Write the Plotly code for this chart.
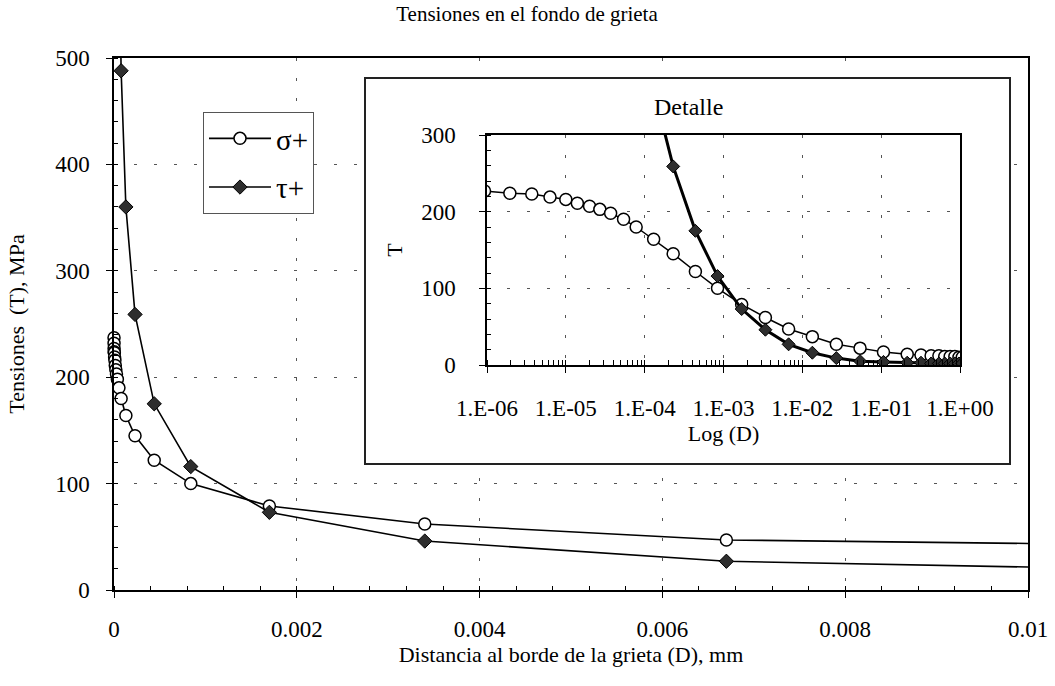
import plotly.graph_objects as go

# ---------------- data ----------------
D_sigma = [2e-7, 5e-7, 9.3e-7, 1.95e-6, 3.7e-6, 6.3e-6, 1.0e-5, 1.4e-5, 2.0e-5, 2.7e-5,
           3.7e-5, 5.4e-5, 7.8e-5, 1.3e-4, 2.3e-4, 4.4e-4, 8.4e-4, 1.7e-3, 3.4e-3, 6.7e-3,
           1.34e-2, 2.7e-2, 5.4e-2, 0.107, 0.214, 0.32, 0.43, 0.54, 0.64, 0.75,
           0.86, 0.97, 1.07]
sigma = [237, 232, 227, 224, 223, 219, 216, 211, 207, 203,
         198, 190, 180, 164, 145, 122, 100, 79, 62, 47,
         37, 27, 22, 17, 14, 13, 12, 12, 11, 11,
         11, 10, 10]

D_tau = [3.7e-5, 5.4e-5, 7.8e-5, 1.3e-4, 2.3e-4, 4.4e-4, 8.4e-4, 1.7e-3, 3.4e-3, 6.7e-3,
         1.34e-2, 2.7e-2, 5.4e-2, 0.107, 0.214, 0.32, 0.43, 0.54, 0.64, 0.75,
         0.86, 0.97, 1.07]
tau = [720, 600, 488, 360, 259, 175, 116, 73, 46, 27,
       16, 9, 5, 4, 3, 3, 2, 2, 2, 2,
       2, 2, 2]

inset_tickvals = [1e-6, 1e-5, 1e-4, 1e-3, 1e-2, 1e-1, 1e0]
inset_ticktext = ["1.E-06", "1.E-05", "1.E-04", "1.E-03", "1.E-02", "1.E-01", "1.E+00"]

name_sigma = "σ+"
name_tau = "τ+"

FONT = "Liberation Serif, Times New Roman, serif"
GRID = dict(showgrid=True, gridcolor="#555555", gridwidth=1, griddash="3px,17px")

fig = go.Figure()

# main chart
fig.add_trace(go.Scatter(
    x=D_sigma, y=sigma, mode="lines+markers", name=name_sigma,
    legendgroup="s", xaxis="x", yaxis="y", cliponaxis=False,
    line=dict(color="black", width=1.6),
    marker=dict(symbol="circle", size=12, color="white", line=dict(color="black", width=1.5)),
))
fig.add_trace(go.Scatter(
    x=D_tau, y=tau, mode="lines+markers", name=name_tau,
    legendgroup="t", xaxis="x", yaxis="y", cliponaxis=False,
    line=dict(color="black", width=1.6),
    marker=dict(symbol="diamond", size=11, color="#2e2e2e", line=dict(color="black", width=1)),
))

# inset (detail, log axis)
fig.add_trace(go.Scatter(
    x=D_sigma, y=sigma, mode="lines+markers", showlegend=False,
    xaxis="x2", yaxis="y2",
    line=dict(color="black", width=1.5),
    marker=dict(symbol="circle", size=12, color="white", line=dict(color="black", width=1.5)),
))
fig.add_trace(go.Scatter(
    x=D_tau, y=tau, mode="lines+markers", showlegend=False,
    xaxis="x2", yaxis="y2",
    line=dict(color="black", width=3),
    marker=dict(symbol="diamond", size=10, color="#2e2e2e", line=dict(color="black", width=1)),
))

W, H = 1055, 686
L, R, T, B = 114, 1028, 58, 590
pw, ph = R - L, B - T
XMAX, YMAX = 0.01, 500


def px_x(p):
    return (p - L) / pw


def px_y(p):
    return (B - p) / ph


TICKF = dict(family=FONT, size=23, color="black")
TITLEF = dict(family=FONT, size=22, color="black")

fig.update_layout(
    width=W, height=H,
    margin=dict(l=L, r=W - R, t=T, b=H - B),
    paper_bgcolor="white", plot_bgcolor="white",
    template="none",
    font=dict(family=FONT, color="black", size=20),
    title=dict(text="Tensiones en el fondo de grieta", x=527 / W, xref="container", xanchor="center",
               y=1 - 14 / H, yref="container", yanchor="middle",
               font=dict(family=FONT, size=21, color="black")),
    showlegend=True,
    legend=dict(x=px_x(203), y=px_y(112), xanchor="left", yanchor="top",
                bordercolor="#555555", borderwidth=1, bgcolor="white",
                font=dict(family=FONT, size=29, color="black"),
                tracegroupgap=8, itemwidth=62),
    xaxis=dict(domain=[0, 1], anchor="y", range=[0, XMAX], tick0=0, dtick=0.002,
               showline=True, linecolor="black", linewidth=1.5, mirror=True,
               ticks="outside", ticklen=6, tickcolor="black", ticklabelstandoff=12,
               zeroline=False, tickfont=TICKF,
               minor=dict(ticks="inside", ticklen=4, dtick=0.0004, tickcolor="black", showgrid=False),
               title=dict(text="Distancia al borde de la grieta (D), mm", standoff=0, font=TITLEF),
               **GRID),
    yaxis=dict(domain=[0, 1], anchor="x", range=[0, YMAX], tick0=0, dtick=100,
               showline=True, linecolor="black", linewidth=1.5, mirror=True,
               ticks="outside", ticklen=6, tickcolor="black", ticklabelstandoff=12,
               zeroline=False, tickfont=TICKF,
               minor=dict(ticks="inside", ticklen=4, dtick=20, tickcolor="black", showgrid=False),
               title=dict(text="Tensiones\u00a0 (T), MPa", standoff=24, font=TITLEF),
               **GRID),
    xaxis2=dict(domain=[px_x(487), px_x(960)], anchor="y2", type="log", range=[-6, 0],
                tickvals=inset_tickvals, ticktext=inset_ticktext,
                showline=True, linecolor="black", linewidth=1.5, mirror=True,
                ticks="outside", ticklen=6, tickcolor="black", ticklabelstandoff=16,
                zeroline=False, tickfont=TICKF,
                minor=dict(ticks="inside", ticklen=5, dtick="D1", tickcolor="black", showgrid=False),
                title=dict(text="Log (D)", standoff=4, font=TITLEF),
                **GRID),
    yaxis2=dict(domain=[px_y(365), px_y(135)], anchor="x2", range=[0, 300], tick0=0, dtick=100,
                showline=True, linecolor="black", linewidth=1.5, mirror=True,
                ticks="outside", ticklen=6, tickcolor="black", ticklabelstandoff=19,
                zeroline=False, tickfont=TICKF,
                minor=dict(ticks="inside", ticklen=4, dtick=20, tickcolor="black", showgrid=False),
                title=dict(text="T", standoff=12, font=TITLEF),
                **GRID),
)

# white box behind the inset (above the main grid, below traces)
fig.add_shape(type="rect", xref="x", yref="y", layer="between",
              x0=px_x(365) * XMAX, x1=px_x(1010) * XMAX,
              y0=px_y(464) * YMAX, y1=px_y(78) * YMAX,
              line=dict(color="#222222", width=2), fillcolor="white")

fig.add_annotation(text="Detalle", xref="paper", yref="paper",
                   x=px_x(688), y=px_y(107), xanchor="center", yanchor="middle",
                   showarrow=False,
                   font=dict(family=FONT, size=24, color="black"))

fig.write_html("out.html")
